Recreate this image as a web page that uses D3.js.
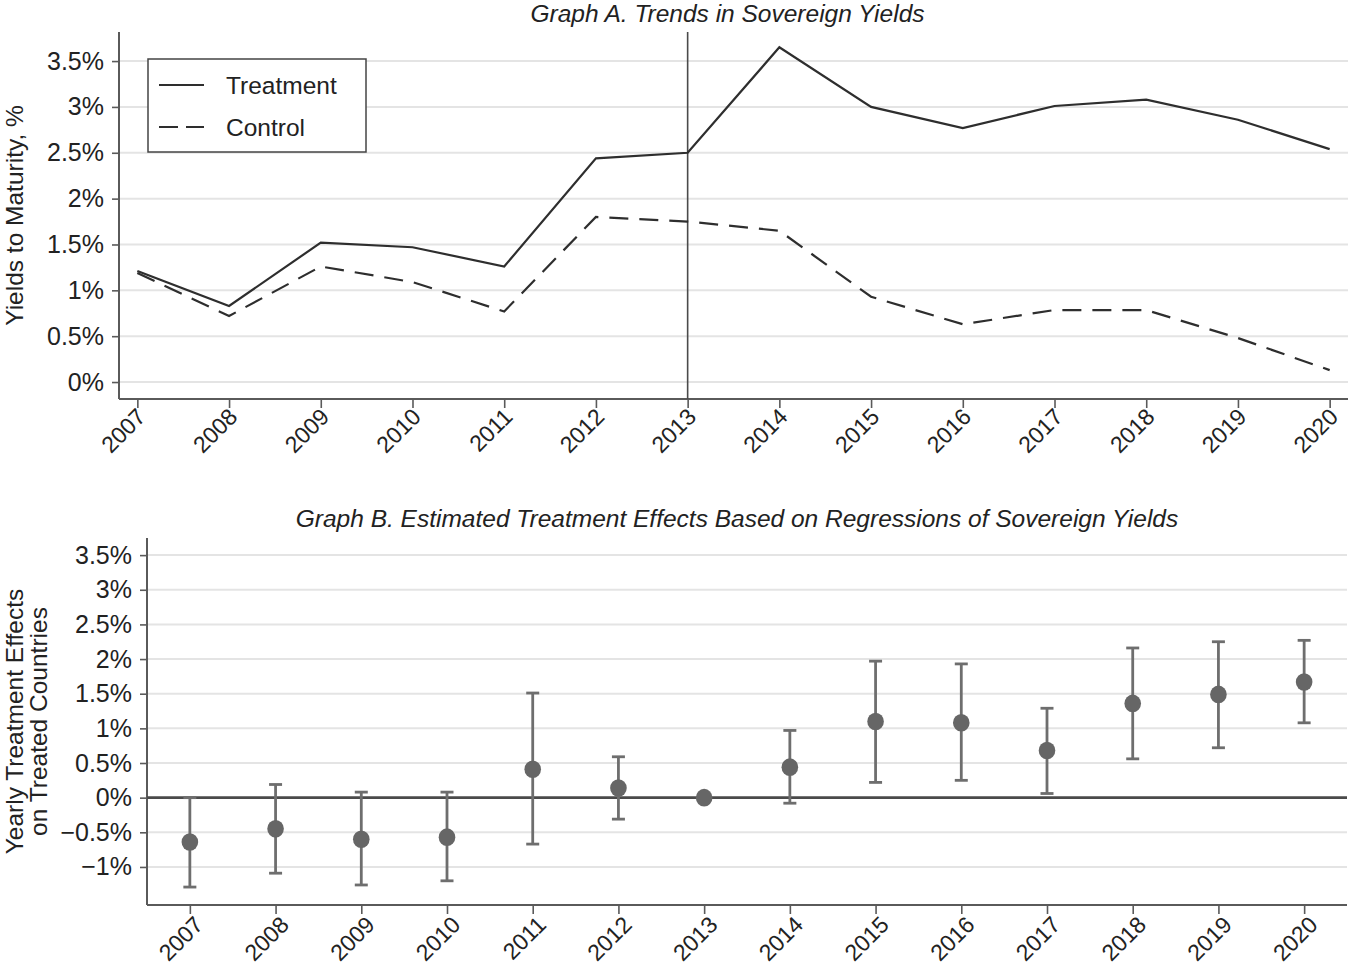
<!DOCTYPE html>
<html>
<head>
<meta charset="utf-8">
<script src="https://cdn.jsdelivr.net/npm/d3@7/dist/d3.min.js"></script>
<style>
  html, body { margin: 0; padding: 0; background: #fff; }
  svg { display: block; font-family: "Liberation Sans", Arial, Helvetica, sans-serif; }
</style>
</head>
<body>
<svg id="chart" width="1350" height="975"></svg>
<script>
// ---------- data ----------
const years = [2007, 2008, 2009, 2010, 2011, 2012, 2013, 2014, 2015, 2016, 2017, 2018, 2019, 2020];
const treatment = [1.21, 0.83, 1.52, 1.47, 1.26, 2.44, 2.50, 3.65, 3.00, 2.77, 3.01, 3.08, 2.86, 2.54];
const control   = [1.19, 0.72, 1.26, 1.09, 0.77, 1.80, 1.75, 1.65, 0.93, 0.63, 0.785, 0.785, 0.48, 0.13];
const effect    = [-0.64, -0.45, -0.60, -0.57, 0.41, 0.14, 0.00, 0.44, 1.10, 1.08, 0.68, 1.36, 1.49, 1.67];
const ciLow     = [-1.29, -1.09, -1.26, -1.20, -0.67, -0.31, null, -0.08, 0.22, 0.25, 0.06, 0.56, 0.72, 1.08];
const ciHigh    = [0.00, 0.19, 0.08, 0.08, 1.51, 0.59, null, 0.97, 1.97, 1.93, 1.29, 2.16, 2.25, 2.27];
const treatYear = 2013;

const yTicksA = [0, 0.5, 1, 1.5, 2, 2.5, 3, 3.5];
const yTickLabelsA = ["0%", "0.5%", "1%", "1.5%", "2%", "2.5%", "3%", "3.5%"];
const yTicksB = [-1, -0.5, 0, 0.5, 1, 1.5, 2, 2.5, 3, 3.5];
const yTickLabelsB = ["\u22121%", "\u22120.5%", "0%", "0.5%", "1%", "1.5%", "2%", "2.5%", "3%", "3.5%"];
const seriesNames = ["Treatment", "Control"];

const titleA = "Graph A. Trends in Sovereign Yields";
const titleB = "Graph B. Estimated Treatment Effects Based on Regressions of Sovereign Yields";
const yTitleA = ["Yields to Maturity, %"];
const yTitleB = ["Yearly Treatment Effects", "on Treated Countries"];

// ---------- style ----------
const axisColor = "#5a5a5a";
const gridColor = "#e4e4e4";
const lineColor = "#2e2e2e";
const markColor = "#666666";
const textColor = "#222";
const fontYTick = 25;
const fontXTick = 23;
const fontTitle = 24.5;
const fontLabel = 24.5;

const svg = d3.select("#chart");

function styleAxis(g, size) {
  g.selectAll(".domain").attr("stroke", axisColor).attr("stroke-width", 2);
  g.selectAll(".tick line").attr("stroke", axisColor).attr("stroke-width", 1.6);
  g.selectAll(".tick text").attr("fill", textColor).style("font-size", size + "px")
    .style("font-family", "Liberation Sans, Arial, sans-serif");
}

// ---------- Graph A ----------
const A = { left: 119, right: 1348, top: 32, bottom: 399 };
const xA = d3.scaleLinear().domain([2006.8, 2020.2]).range([A.left, A.right]);
const yA = d3.scaleLinear().domain([-0.185, 3.817]).range([A.bottom, A.top]);

const gA = svg.append("g");

gA.append("g").selectAll("line").data(yTicksA).join("line")
  .attr("x1", A.left).attr("x2", A.right)
  .attr("y1", d => yA(d)).attr("y2", d => yA(d))
  .attr("stroke", gridColor).attr("stroke-width", 2);

const yAxisA = d3.axisLeft(yA).tickValues(yTicksA).tickSize(7).tickPadding(8)
  .tickFormat((d, i) => yTickLabelsA[i]);
const gyA = gA.append("g").attr("transform", `translate(${A.left},0)`).call(yAxisA);
gyA.select(".domain").attr("d", `M0,${A.top}V${A.bottom}`);
styleAxis(gyA, fontYTick);

const xAxisA = d3.axisBottom(xA).tickValues(years).tickSize(9).tickFormat(d3.format("d"));
const gxA = gA.append("g").attr("transform", `translate(0,${A.bottom})`).call(xAxisA);
gxA.select(".domain").attr("d", `M${A.left},0H${A.right}`);
styleAxis(gxA, fontXTick);
gxA.selectAll(".tick text")
  .attr("text-anchor", "end")
  .attr("transform", "translate(5,12) rotate(-45)")
  .attr("dy", "0.35em").attr("y", 0).attr("x", -2);

gA.append("line")
  .attr("x1", xA(treatYear)).attr("x2", xA(treatYear))
  .attr("y1", A.top).attr("y2", A.bottom)
  .attr("stroke", "#4a4a4a").attr("stroke-width", 1.6);

const lineA = d3.line().x((d, i) => xA(years[i])).y(d => yA(d));
gA.append("path").datum(control).attr("d", lineA)
  .attr("fill", "none").attr("stroke", lineColor).attr("stroke-width", 2.2)
  .attr("stroke-dasharray", "19,11");
gA.append("path").datum(treatment).attr("d", lineA)
  .attr("fill", "none").attr("stroke", lineColor).attr("stroke-width", 2.2);

// legend
const leg = gA.append("g");
leg.append("rect").attr("x", 148).attr("y", 59).attr("width", 218).attr("height", 93)
  .attr("fill", "#fff").attr("stroke", "#444").attr("stroke-width", 1.5);
seriesNames.forEach((name, i) => {
  const ly = 85 + i * 42;
  leg.append("line").attr("x1", 159).attr("x2", 204).attr("y1", ly).attr("y2", ly)
    .attr("stroke", lineColor).attr("stroke-width", 2.2)
    .attr("stroke-dasharray", i === 1 ? "19,8" : null);
  leg.append("text").attr("x", 226).attr("y", ly).attr("dy", "0.35em")
    .attr("fill", textColor).style("font-size", fontLabel + "px").text(name);
});

svg.append("text").attr("x", (A.left + A.right) / 2 - 6).attr("y", 22)
  .attr("text-anchor", "middle").style("font-style", "italic")
  .style("font-size", fontTitle + "px").attr("fill", textColor).text(titleA);

yTitleA.forEach((t, i) => {
  svg.append("text")
    .attr("transform", `translate(${14 + i * 24},${(A.top + A.bottom) / 2}) rotate(-90)`)
    .attr("text-anchor", "middle").attr("dy", "0.35em")
    .style("font-size", fontLabel + "px").attr("fill", textColor).text(t);
});

// ---------- Graph B ----------
const B = { left: 147, right: 1347, top: 538, bottom: 905 };
const xB = d3.scaleLinear().domain([2006.5, 2020.5]).range([B.left, B.right]);
const yB = d3.scaleLinear().domain([-1.549, 3.747]).range([B.bottom, B.top]);

const gB = svg.append("g");

gB.append("g").selectAll("line").data(yTicksB.filter(d => d !== 0)).join("line")
  .attr("x1", B.left).attr("x2", B.right)
  .attr("y1", d => yB(d)).attr("y2", d => yB(d))
  .attr("stroke", gridColor).attr("stroke-width", 2);

const yAxisB = d3.axisLeft(yB).tickValues(yTicksB).tickSize(7).tickPadding(8)
  .tickFormat((d, i) => yTickLabelsB[i]);
const gyB = gB.append("g").attr("transform", `translate(${B.left},0)`).call(yAxisB);
gyB.select(".domain").attr("d", `M0,${B.top}V${B.bottom}`);
styleAxis(gyB, fontYTick);

const xAxisB = d3.axisBottom(xB).tickValues(years).tickSize(9).tickFormat(d3.format("d"));
const gxB = gB.append("g").attr("transform", `translate(0,${B.bottom})`).call(xAxisB);
gxB.select(".domain").attr("d", `M${B.left},0H${B.right}`);
styleAxis(gxB, fontXTick);
gxB.selectAll(".tick text")
  .attr("text-anchor", "end")
  .attr("transform", "translate(10,14) rotate(-45)")
  .attr("dy", "0.35em").attr("y", 0).attr("x", -2);

gB.append("line").attr("x1", B.left).attr("x2", B.right)
  .attr("y1", yB(0)).attr("y2", yB(0))
  .attr("stroke", "#4a4a4a").attr("stroke-width", 2.6);

const eb = gB.append("g");
years.forEach((yr, i) => {
  if (ciLow[i] === null) return;
  const x = xB(yr);
  eb.append("line").attr("x1", x).attr("x2", x).attr("y1", yB(ciLow[i])).attr("y2", yB(ciHigh[i]))
    .attr("stroke", "#6e6e6e").attr("stroke-width", 2.8);
  [ciLow[i], ciHigh[i]].forEach(v => {
    eb.append("line").attr("x1", x - 6.5).attr("x2", x + 6.5).attr("y1", yB(v)).attr("y2", yB(v))
      .attr("stroke", "#6e6e6e").attr("stroke-width", 2.8);
  });
});

gB.append("g").selectAll("ellipse").data(effect).join("ellipse")
  .attr("cx", (d, i) => xB(years[i])).attr("cy", d => yB(d))
  .attr("rx", 8.3).attr("ry", 8.8).attr("fill", markColor);

svg.append("text").attr("x", (B.left + B.right) / 2 - 10).attr("y", 527)
  .attr("text-anchor", "middle").style("font-style", "italic")
  .style("font-size", fontTitle + "px").attr("fill", textColor).text(titleB);

yTitleB.forEach((t, i) => {
  svg.append("text")
    .attr("transform", `translate(${14 + i * 24},${(B.top + B.bottom) / 2}) rotate(-90)`)
    .attr("text-anchor", "middle").attr("dy", "0.35em")
    .style("font-size", fontLabel + "px").attr("fill", textColor).text(t);
});
</script>
</body>
</html>
